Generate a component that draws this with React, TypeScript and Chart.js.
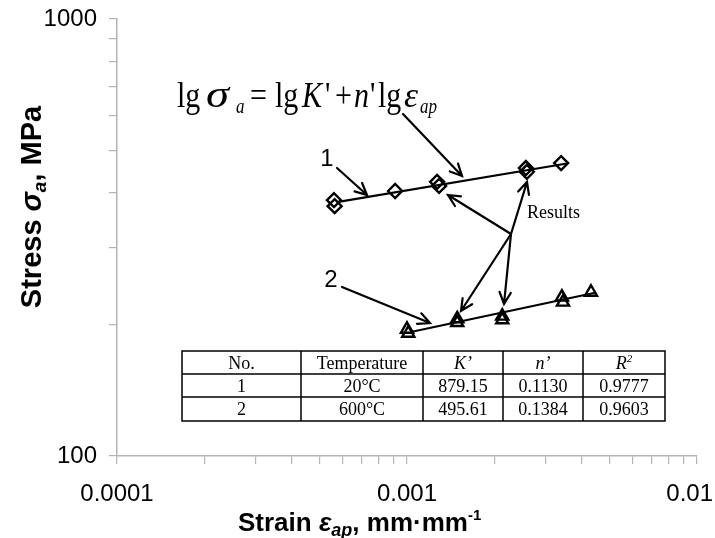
import React, { useEffect, useRef } from 'react';
import { Chart, registerables } from 'chart.js';

Chart.register(...registerables);

// ---- data ----
const strain1a = [5.6e-4, 9.1e-4, 1.27e-3, 2.57e-3, 3.40e-3];
const stress1a = [385, 404, 424, 456, 468];
const strain1b = [5.63e-4, 1.29e-3, 2.59e-3];
const stress1b = [373, 415, 447];
const strain2a = [1.0e-3, 1.49e-3, 2.13e-3, 3.42e-3, 4.31e-3];
const stress2a = [195, 206, 209, 231, 237];
const strain2b = [1.01e-3, 1.49e-3, 2.13e-3, 3.45e-3];
const stress2b = [191, 202, 205, 225];
const fit1Strain = [5.73e-4, 3.56e-3];
const fit1Stress = [381, 467];
const fit2Strain = [1.04e-3, 4.45e-3];
const fit2Stress = [192.5, 236.4];
const xTickValues = [
  1e-4, 2e-4, 3e-4, 4e-4, 5e-4, 6e-4, 7e-4, 8e-4, 9e-4,
  1e-3, 2e-3, 3e-3, 4e-3, 5e-3, 6e-3, 7e-3, 8e-3, 9e-3, 1e-2,
];
const yTickValues = [100, 200, 300, 400, 500, 600, 700, 800, 900, 1000];
const xTickLabels = ['0.0001', '0.001', '0.01'];
const xLabelValues = [1e-4, 1e-3, 1e-2];
const yTickLabels = ['100', '1000'];
const tableHeader = ['No.', 'Temperature', 'K’', 'n’', 'R'];
const tableRows = [
  ['1', '20°C', '879.15', '0.1130', '0.9777'],
  ['2', '600°C', '495.61', '0.1384', '0.9603'],
];

const pts = (xs: number[], ys: number[]) => xs.map((x, i) => ({ x, y: ys[i] }));

const SANS = '"Liberation Sans", Arial, sans-serif';
const SERIF = '"Liberation Serif", "Times New Roman", serif';

type Seg = { t: string; f: string; dy?: number };

function richWidth(ctx: CanvasRenderingContext2D, segs: Seg[]) {
  let w = 0;
  for (const s of segs) {
    ctx.font = s.f;
    w += ctx.measureText(s.t).width;
  }
  return w;
}
function drawRich(ctx: CanvasRenderingContext2D, segs: Seg[], x: number, y: number, align: 'left' | 'center') {
  const W = richWidth(ctx, segs);
  let cx = align === 'center' ? x - W / 2 : x;
  ctx.textAlign = 'left';
  ctx.textBaseline = 'alphabetic';
  for (const s of segs) {
    ctx.font = s.f;
    ctx.fillText(s.t, cx, y + (s.dy || 0));
    cx += ctx.measureText(s.t).width;
  }
}

function arrow(ctx: CanvasRenderingContext2D, x1: number, y1: number, x2: number, y2: number) {
  const a = Math.atan2(y2 - y1, x2 - x1);
  const L = 13;
  const sp = 0.45;
  ctx.beginPath();
  ctx.moveTo(x1, y1);
  ctx.lineTo(x2, y2);
  ctx.moveTo(x2 - L * Math.cos(a - sp), y2 - L * Math.sin(a - sp));
  ctx.lineTo(x2, y2);
  ctx.lineTo(x2 - L * Math.cos(a + sp), y2 - L * Math.sin(a + sp));
  ctx.stroke();
}

const annotations = {
  id: 'annotations',
  afterDraw(chart: any) {
    const ctx: CanvasRenderingContext2D = chart.ctx;
    ctx.save();
    ctx.fillStyle = '#000';
    ctx.strokeStyle = '#000';

    // x tick labels (kept inside the canvas at the right edge)
    const xs = chart.scales.x;
    ctx.font = `24px ${SANS}`;
    ctx.textAlign = 'center';
    ctx.textBaseline = 'middle';
    xLabelValues.forEach((v, i) => {
      const w = ctx.measureText(xTickLabels[i]).width;
      let px = xs.getPixelForValue(v);
      px = Math.min(px, chart.width - 2 - w / 2);
      ctx.fillText(xTickLabels[i], px, 494);
    });

    // axis titles
    drawRich(
      ctx,
      [
        { t: 'Strain ', f: `bold 26px ${SANS}` },
        { t: 'ε', f: `italic bold 26px ${SANS}` },
        { t: 'ap', f: `italic bold 18px ${SANS}`, dy: 5 },
        { t: ', mm·mm', f: `bold 26px ${SANS}` },
        { t: '-1', f: `bold 15px ${SANS}`, dy: -11 },
      ],
      238,
      531,
      'left'
    );
    ctx.save();
    ctx.translate(41, 207);
    ctx.rotate(-Math.PI / 2);
    drawRich(
      ctx,
      [
        { t: 'Stress ', f: `bold 29px ${SANS}` },
        { t: 'σ', f: `italic bold 29px ${SANS}` },
        { t: 'a', f: `italic bold 19px ${SANS}`, dy: 5 },
        { t: ', MPa', f: `bold 29px ${SANS}` },
      ],
      0,
      0,
      'center'
    );
    ctx.restore();

    // equation
    const SY = 1.2;
    const up = `30px ${SERIF}`;
    const it = `italic 30px ${SERIF}`;
    const sub = `italic 17px ${SERIF}`;
    const eq: { t: string; x: number; f: string; dy?: number; w?: number }[] = [
      { t: 'lg', x: 177, f: up },
      { t: 'σ', x: 206, f: `italic 32px ${SERIF}`, w: 23 },
      { t: 'a', x: 236, f: sub, dy: 6 },
      { t: '=', x: 250, f: up },
      { t: 'lg', x: 275, f: up },
      { t: 'K', x: 302, f: it },
      { t: "'", x: 325, f: up },
      { t: '+', x: 335, f: up },
      { t: 'n', x: 354, f: it },
      { t: "'", x: 370, f: up },
      { t: 'lg', x: 378, f: up },
      { t: 'ε', x: 404, f: it, w: 14 },
      { t: 'ap', x: 420, f: sub, dy: 6 },
    ];
    ctx.save();
    ctx.translate(0, 107);
    ctx.scale(1, SY);
    ctx.textAlign = 'left';
    ctx.textBaseline = 'alphabetic';
    for (const s of eq) {
      ctx.font = s.f;
      const y = (s.dy || 0) / SY;
      if (s.w) {
        const mw = ctx.measureText(s.t).width;
        ctx.save();
        ctx.translate(s.x, y);
        ctx.scale(s.w / mw, 1);
        ctx.fillText(s.t, 0, 0);
        ctx.restore();
      } else {
        ctx.fillText(s.t, s.x, y);
      }
    }
    ctx.restore();

    // labels
    ctx.font = `24px ${SANS}`;
    ctx.textAlign = 'center';
    ctx.textBaseline = 'middle';
    ctx.fillText('1', 327, 159);
    ctx.fillText('2', 331, 280);
    ctx.font = `18px ${SERIF}`;
    ctx.textAlign = 'left';
    ctx.fillText('Results', 527, 213);

    // arrows
    ctx.lineWidth = 2.2;
    ctx.lineCap = 'round';
    ctx.lineJoin = 'miter';
    arrow(ctx, 403, 114, 462, 176);
    arrow(ctx, 337, 168, 367, 195);
    arrow(ctx, 342, 287, 430, 323);
    const ox = 511, oy = 234;
    arrow(ctx, ox, oy, 448, 195);
    arrow(ctx, ox, oy, 527, 182);
    arrow(ctx, ox, oy, 461, 311);
    arrow(ctx, ox, oy, 504, 304);

    // table
    const cols = [182, 301, 423, 503, 583, 665];
    const rows = [351, 374, 397, 421];
    ctx.lineCap = 'butt';
    ctx.lineWidth = 1.5;
    ctx.strokeRect(cols[0], rows[0], cols[5] - cols[0], rows[3] - rows[0]);
    ctx.beginPath();
    for (let i = 1; i < cols.length - 1; i++) {
      ctx.moveTo(cols[i], rows[0]);
      ctx.lineTo(cols[i], rows[3]);
    }
    for (let j = 1; j < rows.length - 1; j++) {
      ctx.moveTo(cols[0], rows[j]);
      ctx.lineTo(cols[5], rows[j]);
    }
    ctx.stroke();
    const tf = `18px ${SERIF}`;
    const tfi = `italic 18px ${SERIF}`;
    const cx = (i: number) => (cols[i] + cols[i + 1]) / 2;
    const by = (j: number) => (rows[j] + rows[j + 1]) / 2 + 6;
    tableHeader.forEach((h, i) => {
      if (i === 4) {
        drawRich(ctx, [{ t: h, f: tfi }, { t: '2', f: `italic 11px ${SERIF}`, dy: -7 }], cx(i), by(0), 'center');
      } else {
        drawRich(ctx, [{ t: h, f: i >= 2 ? tfi : tf }], cx(i), by(0), 'center');
      }
    });
    tableRows.forEach((r, j) => {
      r.forEach((c, i) => drawRich(ctx, [{ t: c, f: tf }], cx(i), by(j + 1), 'center'));
    });

    ctx.restore();
  },
};

const isDecade = (v: number) => {
  const e = Math.log10(v);
  return Math.abs(e - Math.round(e)) < 1e-6;
};

export default function App() {
  const ref = useRef<HTMLCanvasElement | null>(null);
  useEffect(() => {
    if (!ref.current) return;
    const markerA = { borderColor: '#000', backgroundColor: 'rgba(0,0,0,0)', borderWidth: 2.4, showLine: false };
    const axisGrey = '#b4b4b4';
    const chart = new Chart(ref.current, {
      type: 'scatter',
      data: {
        datasets: [
          { data: pts(fit1Strain, fit1Stress), showLine: true, borderColor: '#000', borderWidth: 2.2, pointRadius: 0 },
          { data: pts(fit2Strain, fit2Stress), showLine: true, borderColor: '#000', borderWidth: 2.2, pointRadius: 0 },
          { data: pts(strain1a, stress1a), ...markerA, pointStyle: 'rectRot', pointRadius: 7 },
          { data: pts(strain1b, stress1b), ...markerA, pointStyle: 'rectRot', pointRadius: 7 },
          { data: pts(strain2a, stress2a), ...markerA, pointStyle: 'triangle', pointRadius: 7 },
          { data: pts(strain2b, stress2b), ...markerA, pointStyle: 'triangle', pointRadius: 7 },
        ] as any,
      },
      options: {
        responsive: false,
        animation: false,
        devicePixelRatio: 1,
        layout: { padding: { top: 19, right: 18, left: 0, bottom: 0 } },
        plugins: { legend: { display: false }, tooltip: { enabled: false } },
        scales: {
          x: {
            type: 'logarithmic',
            min: 1e-4,
            max: 1e-2,
            border: { display: true, color: axisGrey, width: 1.5 },
            grid: { display: true, drawOnChartArea: false, drawTicks: true, tickLength: 8, color: axisGrey, lineWidth: 1.2 },
            ticks: { display: false, autoSkip: false, maxRotation: 0, minRotation: 0 },
            afterBuildTicks: (s: any) => {
              s.ticks = xTickValues.map((v) => ({ value: v, major: isDecade(v) }));
            },
            afterFit: (s: any) => {
              s.height = 82;
              s.paddingLeft = 0;
              s.paddingRight = 0;
            },
          },
          y: {
            type: 'logarithmic',
            min: 100,
            max: 1000,
            border: { display: true, color: axisGrey, width: 1.5 },
            grid: { display: true, drawOnChartArea: false, drawTicks: true, tickLength: 8, color: axisGrey, lineWidth: 1.2 },
            ticks: {
              autoSkip: false,
              padding: 12,
              color: '#000',
              font: { family: SANS, size: 24 },
              callback: (v: any) => (isDecade(Number(v)) ? yTickLabels[Math.round(Math.log10(Number(v))) - 2] : ''),
            },
            afterBuildTicks: (s: any) => {
              s.ticks = yTickValues.map((v) => ({ value: v, major: isDecade(v) }));
            },
            afterFit: (s: any) => {
              s.width = 117;
              s.paddingTop = 0;
              s.paddingBottom = 0;
            },
          },
        },
      },
      plugins: [annotations],
    } as any);
    return () => chart.destroy();
  }, []);
  return (
    <div style={{ position: 'absolute', left: 0, top: 0, width: 715, height: 538, background: '#fff' }}>
      <canvas ref={ref} width={715} height={538} style={{ display: 'block' }} />
    </div>
  );
}
